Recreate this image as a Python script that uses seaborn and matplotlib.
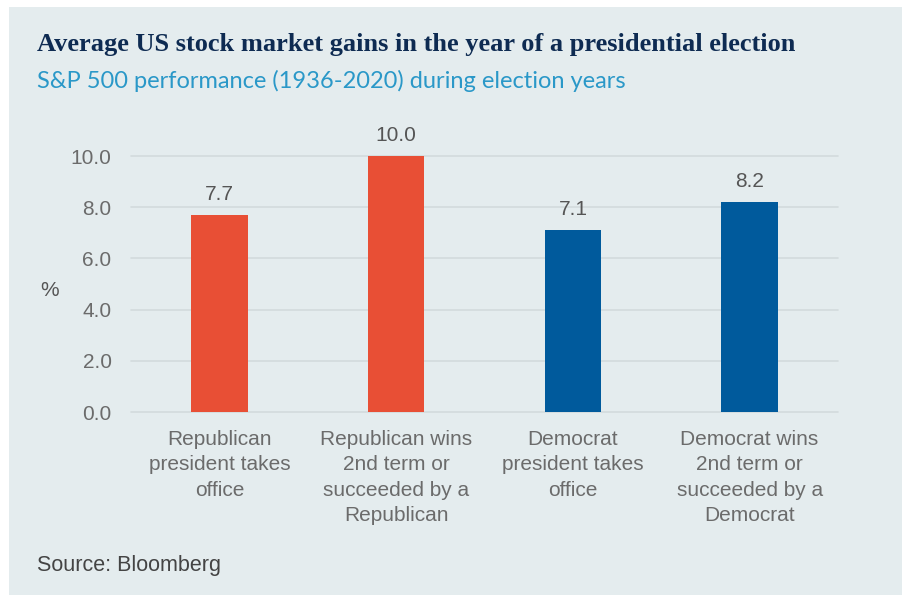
import matplotlib
matplotlib.use("Agg")
import matplotlib.pyplot as plt
import seaborn as sns
import pandas as pd
from matplotlib.patches import Rectangle

categories = [
    "Republican\npresident takes\noffice",
    "Republican wins\n2nd term or\nsucceeded by a\nRepublican",
    "Democrat\npresident takes\noffice",
    "Democrat wins\n2nd term or\nsucceeded by a\nDemocrat",
]
values = [7.7, 10.0, 7.1, 8.2]
bar_colors = ["#E84F35", "#E84F35", "#005A9C", "#005A9C"]
yticks = [0, 2, 4, 6, 8, 10]

title = "Average US stock market gains in the year of a presidential election"
subtitle = "S&P 500 performance (1936-2020) during election years"
source = "Source: Bloomberg"

sns.set_theme(style="white")
plt.rcParams["font.family"] = ["Liberation Sans", "DejaVu Sans"]

BG = "#E4ECEE"
W, H = 902, 595
fig = plt.figure(figsize=(W / 100, H / 100), dpi=100)
fig.patch.set_facecolor("white")
fig.patches.append(Rectangle((9 / W, 0), 1 - 9 / W, 1 - 7 / H, transform=fig.transFigure,
                             facecolor=BG, edgecolor="none", zorder=-10))

ax = fig.add_axes([131 / W, (H - 412) / H, (838 - 131) / W, (412 - 156) / H])
ax.set_zorder(2)
ax.patch.set_alpha(0)

df = pd.DataFrame({"cat": categories, "val": values})
sns.barplot(data=df, x="cat", y="val", hue="cat", palette=bar_colors, legend=False,
            width=0.32, ax=ax, saturation=1, zorder=3, linewidth=0)

ax.set_xlim(-0.5, 3.5)
ax.set_ylim(0, 10)
ax.set_yticks(yticks)
ax.set_yticklabels([f"{v:.1f}" for v in yticks])
for y in yticks:
    ax.axhline(y, color="#D3DADC", lw=1.2, zorder=1, clip_on=False)
for s in ax.spines.values():
    s.set_visible(False)
ax.tick_params(axis="y", length=0, pad=14, labelsize=15, labelcolor="#6B6B6B")
ax.tick_params(axis="x", length=0, pad=13, labelsize=15, labelcolor="#6B6B6B")
for lab in ax.get_xticklabels():
    lab.set_linespacing(1.42)
    lab.set_va("top")
ax.set_xlabel("")
ax.set_ylabel("")

for i, v in enumerate(values):
    ax.text(i, v + 0.42, f"{v:.1f}", ha="center", va="bottom", fontsize=15,
            color="#555555", clip_on=False)

fig.text(50 / W, 1 - 291 / H, "%", fontsize=15, color="#555555", ha="center", va="center")

fig.text(37 / W, 1 - 45 / H, title, fontsize=19, color="#0E2B52", fontweight="bold",
         family=["Liberation Serif", "DejaVu Serif"], ha="left", va="center")
fig.text(37 / W, 1 - 81 / H, subtitle, fontsize=17, color="#2A98C8", fontweight="normal",
         family=["Lato", "DejaVu Sans"], ha="left", va="center")
fig.text(37 / W, 1 - 565 / H, source, fontsize=15.5, color="#444444", ha="left", va="center")

fig.savefig("out.png", dpi=100, facecolor=fig.get_facecolor())
